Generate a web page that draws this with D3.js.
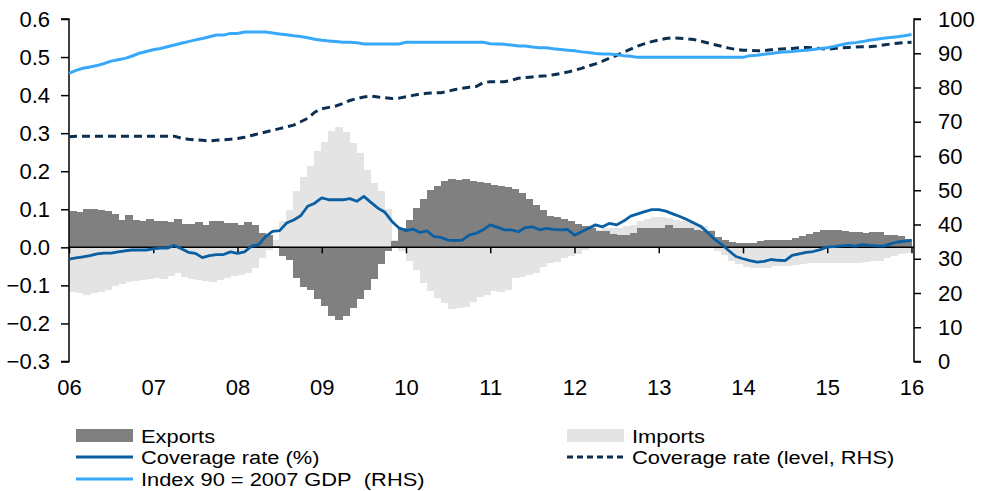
<!DOCTYPE html>
<html>
<head>
<meta charset="UTF-8">
<script src="https://d3js.org/d3.v7.min.js"></script>
<style>
  body { margin: 0; background: #fff; }
  svg { display: block; font-family: "Liberation Sans", Arial, sans-serif; }
</style>
</head>
<body>
<svg width="981" height="491"></svg>
<script>
// monthly, Jan 2006 .. Dec 2015 (bars), lines run to Jan 2016
const yearLabels = ["06","07","08","09","10","11","12","13","14","15","16"];
const leftTicks = [0.6,0.5,0.4,0.3,0.2,0.1,0,-0.1,-0.2,-0.3];
const rightTicks = [100,90,80,70,60,50,40,30,20,10,0];

const exportsData = [
  0.095,0.092,0.100,0.100,0.099,0.095,0.088,0.073,0.086,0.073,0.070,0.074,
  0.070,0.070,0.066,0.074,0.061,0.061,0.066,0.060,0.070,0.070,0.063,0.063,
  0.058,0.066,0.058,0.038,0.032,0.004,-0.024,-0.034,-0.081,-0.104,-0.111,-0.137,
  -0.155,-0.181,-0.192,-0.180,-0.159,-0.136,-0.111,-0.084,-0.045,-0.010,0.016,0.050,
  0.072,0.103,0.128,0.150,0.162,0.173,0.180,0.178,0.180,0.173,0.172,0.169,
  0.165,0.162,0.158,0.152,0.143,0.128,0.112,0.099,0.083,0.080,0.075,0.068,
  0.062,0.055,0.051,0.042,0.042,0.035,0.033,0.033,0.038,0.050,0.052,0.050,
  0.052,0.058,0.051,0.051,0.050,0.046,0.044,0.042,0.026,0.018,0.014,0.011,
  0.011,0.012,0.016,0.020,0.020,0.018,0.018,0.024,0.030,0.035,0.040,0.045,
  0.046,0.046,0.042,0.040,0.040,0.038,0.041,0.041,0.032,0.032,0.030,0.023
];
const importsData = [
  -0.117,-0.120,-0.124,-0.120,-0.117,-0.112,-0.102,-0.096,-0.091,-0.089,-0.086,-0.082,
  -0.081,-0.082,-0.076,-0.067,-0.079,-0.082,-0.085,-0.088,-0.091,-0.085,-0.081,-0.076,
  -0.072,-0.067,-0.054,-0.028,-0.006,0.020,0.070,0.099,0.147,0.184,0.213,0.252,
  0.278,0.305,0.315,0.302,0.274,0.248,0.204,0.169,0.147,0.100,0.020,-0.010,
  -0.035,-0.060,-0.095,-0.116,-0.134,-0.147,-0.163,-0.160,-0.156,-0.143,-0.130,-0.125,
  -0.116,-0.118,-0.112,-0.080,-0.077,-0.073,-0.067,-0.051,-0.042,-0.038,-0.029,-0.023,
  -0.018,-0.007,0.010,0.045,0.050,0.050,0.052,0.055,0.060,0.068,0.075,0.080,
  0.080,0.077,0.072,0.070,0.068,0.062,0.055,0.045,-0.010,-0.020,-0.035,-0.045,
  -0.052,-0.055,-0.055,-0.053,-0.050,-0.050,-0.048,-0.046,-0.045,-0.042,-0.041,-0.041,
  -0.041,-0.042,-0.042,-0.040,-0.040,-0.038,-0.037,-0.035,-0.028,-0.024,-0.018,-0.014
];
const coverageRate = [
  -0.031,-0.028,-0.025,-0.022,-0.017,-0.015,-0.015,-0.012,-0.009,-0.007,-0.007,-0.007,
  -0.004,-0.002,-0.002,0.005,-0.004,-0.013,-0.016,-0.027,-0.022,-0.019,-0.019,-0.012,
  -0.016,-0.012,0.003,0.007,0.028,0.042,0.044,0.064,0.072,0.083,0.108,0.116,
  0.130,0.125,0.125,0.125,0.128,0.121,0.134,0.118,0.103,0.092,0.068,0.051,
  0.044,0.048,0.039,0.043,0.028,0.026,0.019,0.018,0.019,0.032,0.037,0.046,
  0.059,0.053,0.046,0.046,0.041,0.052,0.054,0.046,0.050,0.047,0.046,0.047,
  0.032,0.041,0.050,0.059,0.054,0.063,0.059,0.069,0.082,0.088,0.094,0.099,
  0.099,0.095,0.088,0.081,0.073,0.064,0.055,0.038,0.020,0.007,-0.009,-0.024,
  -0.030,-0.035,-0.039,-0.037,-0.032,-0.034,-0.035,-0.021,-0.017,-0.013,-0.011,-0.006,
  0.001,0.002,0.004,0.005,0.003,0.007,0.005,0.004,0.003,0.009,0.014,0.016,
  0.018
];
const coverageLevel = [
  65.6,65.8,65.8,65.8,65.8,65.8,65.8,65.8,65.8,65.8,65.8,65.8,
  65.8,65.8,65.8,65.8,65.2,64.9,64.7,64.6,64.4,64.6,64.7,64.9,
  65.1,65.5,66.0,66.5,67.0,67.5,68.0,68.5,69.0,70.0,71.0,72.8,
  73.8,74.2,74.6,75.3,76.2,76.8,77.2,77.5,77.2,77.0,76.8,76.9,
  77.3,77.7,78.1,78.3,78.4,78.5,78.9,79.4,79.8,80.1,80.3,81.4,
  81.7,81.7,81.7,82.1,82.7,82.9,83.1,83.3,83.4,83.7,84.1,84.5,
  85.0,85.6,86.3,86.9,87.7,88.6,89.4,90.3,91.2,92.1,92.8,93.4,
  93.9,94.3,94.5,94.4,94.2,94.0,93.5,93.0,92.5,92.0,91.5,91.1,
  90.9,90.8,90.7,90.8,91.0,91.2,91.3,91.4,91.6,91.7,91.6,91.4,
  91.2,91.4,91.6,91.7,91.8,91.9,91.9,92.1,92.4,92.7,92.9,93.1,
  93.2
];
const gdpIndex = [
  84.1,85.0,85.6,86.0,86.4,87.0,87.7,88.1,88.5,89.2,90.0,90.5,
  91.0,91.4,91.9,92.4,92.9,93.4,93.9,94.3,94.8,95.3,95.3,95.8,
  95.8,96.2,96.2,96.2,96.2,95.9,95.6,95.4,95.1,94.9,94.5,94.1,
  93.8,93.6,93.4,93.2,93.2,93.1,92.7,92.7,92.7,92.7,92.7,92.7,
  93.2,93.2,93.2,93.2,93.2,93.2,93.2,93.2,93.2,93.2,93.2,93.2,
  92.8,92.7,92.6,92.4,92.1,92.1,91.8,91.6,91.6,91.3,91.1,90.9,
  90.7,90.4,90.2,89.9,89.8,89.8,89.6,89.3,89.1,88.8,88.8,88.8,
  88.8,88.8,88.8,88.8,88.8,88.8,88.8,88.8,88.8,88.8,88.8,88.8,
  88.8,89.3,89.4,89.7,89.9,90.2,90.4,90.5,90.7,90.9,91.1,91.4,
  91.6,92.0,92.5,92.9,93.1,93.4,93.8,94.1,94.4,94.6,94.8,95.1,
  95.5
];

const svg = d3.select("svg");
const plotLeft = 69, plotRight = 914, plotTop = 19, plotBottom = 361.5;

const x = d3.scaleLinear().domain([0, 120]).range([plotLeft, 911.5]);
const yL = d3.scaleLinear().domain([-0.3, 0.6]).range([plotBottom, plotTop]);
const yR = d3.scaleLinear().domain([0, 100]).range([plotBottom, plotTop]);

// bars: imports behind, exports in front, no gaps between months
function bars(data, color) {
  svg.append("g").selectAll("rect")
    .data(data)
    .enter().append("rect")
    .attr("x", (d, i) => Math.floor(x(i)))
    .attr("width", (d, i) => Math.ceil(x(i + 1)) - Math.floor(x(i)))
    .attr("y", d => yL(Math.max(0, d)))
    .attr("height", d => Math.abs(yL(d) - yL(0)))
    .attr("fill", color)
    .attr("shape-rendering", "crispEdges");
}
bars(importsData, "#e4e4e4");
bars(exportsData, "#808080");

// zero line with year ticks
svg.append("g")
  .attr("transform", `translate(0,${yL(0)})`)
  .call(d3.axisBottom(x).tickValues(d3.range(0, 121, 12)).tickSize(6).tickFormat(""))
  .call(g => g.select(".domain").attr("d", `M${plotLeft},0H${plotRight}`).attr("stroke-width", 1.5))
  .call(g => g.selectAll(".tick line").attr("stroke-width", 1.5));

// year labels at bottom
svg.append("g")
  .attr("transform", `translate(0,${plotBottom})`)
  .call(d3.axisBottom(x).tickValues(d3.range(0, 121, 12)).tickSize(0).tickPadding(18)
    .tickFormat((d, i) => yearLabels[i]))
  .call(g => g.select(".domain").remove())
  .call(g => g.selectAll("text").attr("font-size", 22).attr("fill", "#000"));

// left axis
svg.append("g")
  .attr("transform", `translate(${plotLeft},0)`)
  .call(d3.axisLeft(yL).tickValues(leftTicks).tickSize(8).tickPadding(11).tickFormat(d3.format(".1f")))
  .call(g => g.select(".domain").attr("d", `M-8,${plotTop}H0V${plotBottom}H-8`).attr("stroke-width", 1.5))
  .call(g => g.selectAll(".tick line").attr("stroke-width", 1.5))
  .call(g => g.selectAll("text").attr("font-size", 22).attr("fill", "#000"));

// right axis
svg.append("g")
  .attr("transform", `translate(${plotRight},0)`)
  .call(d3.axisRight(yR).tickValues(rightTicks).tickSize(7).tickPadding(17))
  .call(g => g.select(".domain").attr("d", `M7,${plotTop}H0V${plotBottom}H7`).attr("stroke-width", 1.5))
  .call(g => g.selectAll(".tick line").attr("stroke-width", 1.5))
  .call(g => g.selectAll("text").attr("font-size", 22).attr("fill", "#000"));

// lines
const lineL = d3.line().x((d, i) => x(i)).y(d => yL(d));
const lineR = d3.line().x((d, i) => x(i)).y(d => yR(d));

svg.append("path").datum(coverageLevel)
  .attr("d", lineR).attr("fill", "none")
  .attr("stroke", "#0b2f52").attr("stroke-width", 3).attr("stroke-dasharray", "8,5");

svg.append("path").datum(gdpIndex)
  .attr("d", lineR).attr("fill", "none")
  .attr("stroke", "#38a9fa").attr("stroke-width", 3);

svg.append("path").datum(coverageRate)
  .attr("d", lineL).attr("fill", "none")
  .attr("stroke", "#0a5fa3").attr("stroke-width", 2.8).attr("stroke-linejoin", "round");

// legend
const legendItems = [
  { name: "Exports", type: "rect", color: "#808080", x: 76, y: 436 },
  { name: "Imports", type: "rect", color: "#e4e4e4", x: 567, y: 436 },
  { name: "Coverage rate (%)", type: "line", color: "#0a5fa3", x: 76, y: 457 },
  { name: "Coverage rate (level, RHS)", type: "dash", color: "#0b2f52", x: 567, y: 457 },
  { name: "Index 90 = 2007 GDP\u00a0\u00a0(RHS)", type: "line", color: "#38a9fa", x: 76, y: 479 }
];
const lg = svg.append("g").selectAll("g").data(legendItems).enter().append("g")
  .attr("transform", d => `translate(${d.x},${d.y})`);
lg.filter(d => d.type === "rect").append("rect")
  .attr("x", 0).attr("y", -7).attr("width", 57).attr("height", 13).attr("fill", d => d.color);
lg.filter(d => d.type !== "rect").append("line")
  .attr("x1", 0).attr("x2", 57).attr("y1", 0).attr("y2", 0)
  .attr("stroke", d => d.color).attr("stroke-width", 3)
  .attr("stroke-dasharray", d => d.type === "dash" ? "6,4" : null);
lg.append("text")
  .attr("transform", "translate(65,0) scale(1.15,1)")
  .attr("dy", "0.36em")
  .attr("font-size", 19).attr("fill", "#000")
  .text(d => d.name);
</script>
</body>
</html>
